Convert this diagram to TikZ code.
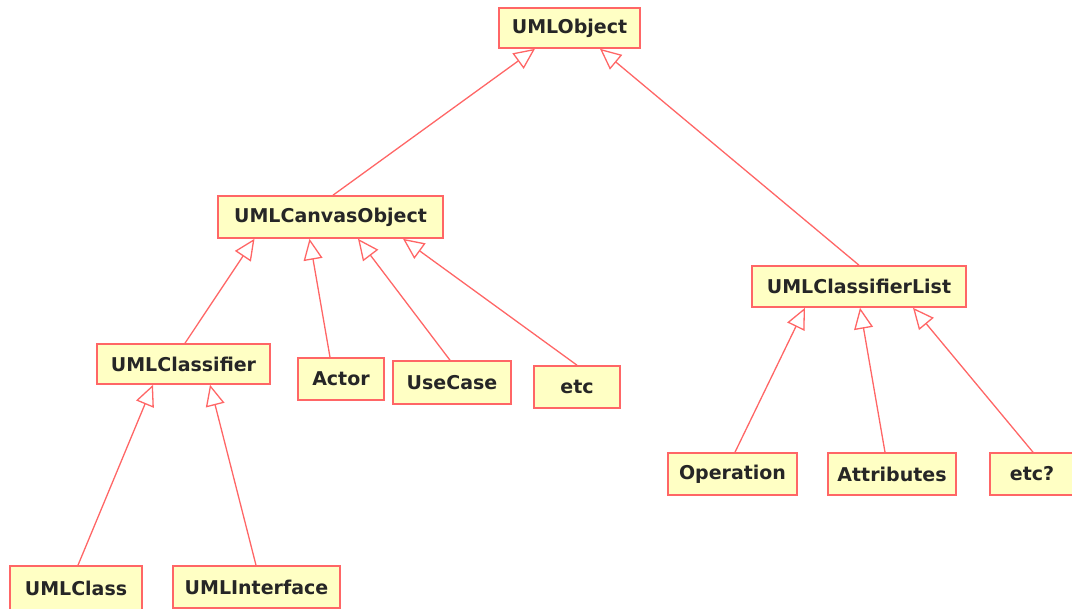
\documentclass[tikz,border=0pt]{standalone}
\usepackage{fontspec}
\setmainfont{DejaVu Sans}
\usetikzlibrary{arrows.meta}
\definecolor{boxfill}{HTML}{FFFFC4}
\definecolor{boxline}{HTML}{FF6666}
\tikzset{
  cls/.style={draw=boxline, line width=1.6pt, fill=boxfill, inner sep=0pt,
    font=\fontsize{19}{22}\selectfont\bfseries, text=black!85},
  inh/.style={draw=boxline, line width=1.3pt,
    -{Triangle[open, length=21pt, width=19pt]}}
}
\begin{document}
\begin{tikzpicture}[x=1pt, y=-1pt]
\useasboundingbox (0,0) rectangle (1072,609);
\node[cls, minimum width=141pt, minimum height=40pt] (obj) at (569.5,28) {UMLObject};
\node[cls, minimum width=225pt, minimum height=42pt] (canvas) at (330.5,217) {UMLCanvasObject};
\node[cls, minimum width=214pt, minimum height=41pt] (list) at (859,286.5) {UMLClassifierList};
\node[cls, minimum width=173pt, minimum height=40pt] (classifier) at (183.5,364) {UMLClassifier};
\node[cls, minimum width=86pt, minimum height=42pt] (actor) at (341,379) {Actor};
\node[cls, minimum width=118pt, minimum height=43pt] (usecase) at (452,382.5) {UseCase};
\node[cls, minimum width=86pt, minimum height=42pt] (etc) at (577,387) {etc};
\node[cls, minimum width=129pt, minimum height=42pt] (operation) at (732.5,474) {Operation};
\node[cls, minimum width=128pt, minimum height=42pt] (attributes) at (892,474) {Attributes};
\node[cls, minimum width=84pt, minimum height=42pt] (etcq) at (1032,474) {etc?};
\node[cls, minimum width=132pt, minimum height=44pt] (umlclass) at (76,588) {UMLClass};
\node[cls, minimum width=167pt, minimum height=42pt] (umlinterface) at (256.5,587) {UMLInterface};

\draw[inh] ([xshift=2.5pt]canvas.north) -- ([xshift=-34.5pt]obj.south);
\draw[inh] (list.north) -- ([xshift=30.5pt]obj.south);

\draw[inh] ([xshift=1.5pt]classifier.north) -- ([xshift=-76pt]canvas.south);
\draw[inh] ([xshift=-11pt]actor.north) -- ([xshift=-21pt]canvas.south);
\draw[inh] ([xshift=-2pt]usecase.north) -- ([xshift=27.5pt]canvas.south);
\draw[inh] (etc.north) -- ([xshift=72.5pt]canvas.south);

\draw[inh] ([xshift=2.5pt]operation.north) -- ([xshift=-54pt]list.south);
\draw[inh] ([xshift=-7pt]attributes.north) -- ([xshift=1pt]list.south);
\draw[inh] ([xshift=1pt]etcq.north) -- ([xshift=54pt]list.south);

\draw[inh] ([xshift=2pt]umlclass.north) -- ([xshift=-30.5pt]classifier.south);
\draw[inh] ([xshift=-0.5pt]umlinterface.north) -- ([xshift=26.5pt]classifier.south);
\end{tikzpicture}
\end{document}
